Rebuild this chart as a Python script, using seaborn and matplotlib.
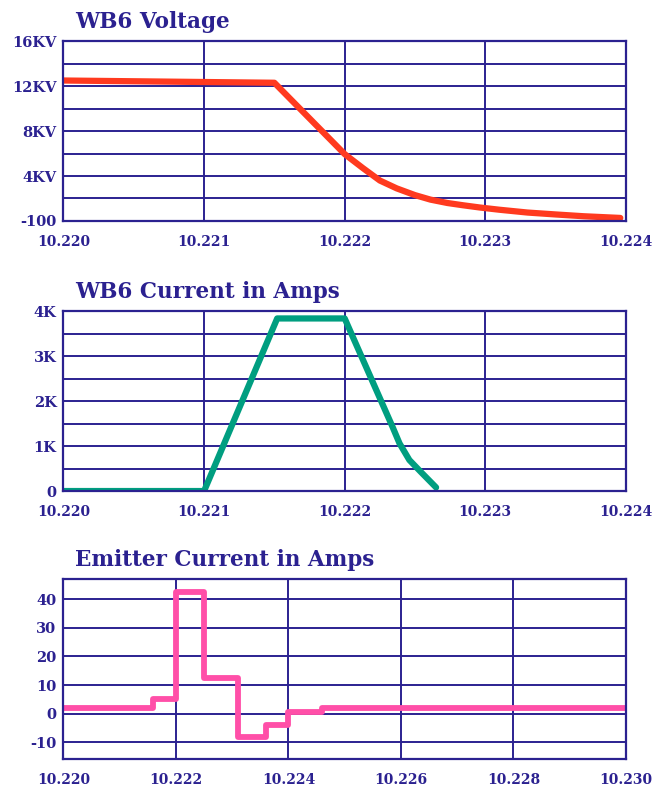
import matplotlib
matplotlib.use('Agg')
import matplotlib.pyplot as plt
import numpy as np
import pandas as pd
import seaborn as sns

# WB6 voltage (V) vs time
volt_t = [10.2200, 10.2215, 10.2220, 10.22213, 10.22225, 10.22237, 10.2225,
          10.22261, 10.22273, 10.22284, 10.22296, 10.2231, 10.2233, 10.2235,
          10.2237, 10.22396]
volt_v = [12500, 12300, 5950, 4700, 3600, 2900, 2300,
          1900, 1600, 1400, 1200, 1000, 750, 580,
          420, 270]

# WB6 current (A) vs time
cur_t = [10.2200, 10.2210, 10.22152, 10.2220, 10.22234, 10.22239, 10.22246,
         10.22254, 10.22265]
cur_v = [0, 0, 3840, 3840, 1430, 1060, 690, 430, 80]

# emitter current (A), stepped
emi_t = [10.2200, 10.2216, 10.2220, 10.2225, 10.2231, 10.2236, 10.2240, 10.2246, 10.2300]
emi_v = [2, 5, 42.5, 12.5, -8, -4, 0.5, 2, 2]

NAVY = '#2B2190'

sns.set_style('white')
plt.rcParams['font.family'] = ['DejaVu Serif']
plt.rcParams['font.weight'] = 'bold'

fig = plt.figure(figsize=(6.68, 7.92), dpi=100)
ax1 = fig.add_axes([0.095, 0.721, 0.842, 0.227])
ax2 = fig.add_axes([0.095, 0.380, 0.842, 0.227])
ax3 = fig.add_axes([0.095, 0.0417, 0.842, 0.227])


def style_axes(ax, xlim, ylim, xmaj, ymaj, ymin, ylabels, xlabels):
    ax.set_xlim(*xlim)
    ax.set_ylim(*ylim)
    ax.set_xticks(xmaj)
    ax.set_xticklabels(xlabels)
    ax.set_yticks(ymaj)
    ax.set_yticklabels(ylabels)
    ax.set_yticks(ymin, minor=True)
    ax.grid(True, which='both', color=NAVY, linewidth=1.4)
    ax.set_axisbelow(True)
    for s in ax.spines.values():
        s.set_color(NAVY)
        s.set_linewidth(1.6)
        s.set_visible(True)
    ax.tick_params(axis='both', which='both', length=0, colors=NAVY)
    ax.tick_params(axis='x', pad=10, labelsize=10)
    ax.tick_params(axis='y', pad=5, labelsize=10.5)
    ax.set_xlabel('')
    ax.set_ylabel('')


df1 = pd.DataFrame({'t': volt_t, 'v': volt_v})
sns.lineplot(data=df1, x='t', y='v', ax=ax1, color='#FF3A1F', linewidth=4.5)
style_axes(ax1, (10.220, 10.224), (0, 16000),
           [10.220, 10.221, 10.222, 10.223, 10.224],
           [0, 4000, 8000, 12000, 16000],
           [2000, 6000, 10000, 14000],
           ['-100', '4KV', '8KV', '12KV', '16KV'],
           ['10.220', '10.221', '10.222', '10.223', '10.224'])

df2 = pd.DataFrame({'t': cur_t, 'v': cur_v})
sns.lineplot(data=df2, x='t', y='v', ax=ax2, color='#009E80', linewidth=4.5)
style_axes(ax2, (10.220, 10.224), (0, 4000),
           [10.220, 10.221, 10.222, 10.223, 10.224],
           [0, 1000, 2000, 3000, 4000],
           [500, 1500, 2500, 3500],
           ['0', '1K', '2K', '3K', '4K'],
           ['10.220', '10.221', '10.222', '10.223', '10.224'])

df3 = pd.DataFrame({'t': emi_t, 'v': emi_v})
sns.lineplot(data=df3, x='t', y='v', ax=ax3, color='#FF4FA8', linewidth=4.2,
             drawstyle='steps-post')
style_axes(ax3, (10.220, 10.230), (-15.8, 47),
           [10.220, 10.222, 10.224, 10.226, 10.228, 10.230],
           [-10, 0, 10, 20, 30, 40],
           [],
           ['-10', '0', '10', '20', '30', '40'],
           ['10.220', '10.222', '10.224', '10.226', '10.228', '10.230'])

for ax, title, y in [(ax1, 'WB6 Voltage', 0.965),
                     (ax2, 'WB6 Current in Amps', 0.624),
                     (ax3, 'Emitter Current in Amps', 0.285)]:
    fig.text(0.112, y, title, fontsize=15.5, fontweight='bold', color=NAVY,
             va='baseline', ha='left')

fig.savefig('out.png', dpi=100)
